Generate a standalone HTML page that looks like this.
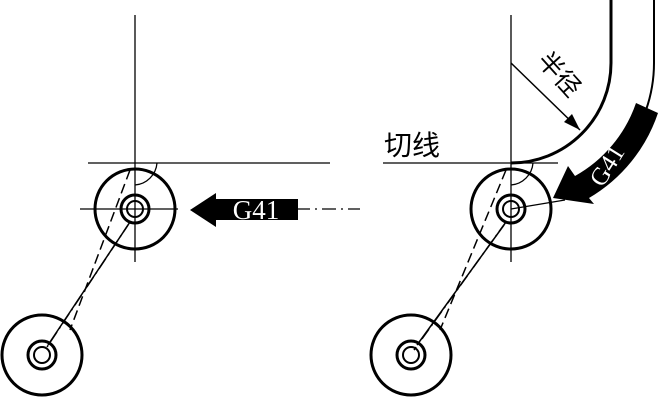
<!DOCTYPE html>
<html><head><style>body{margin:0;background:#fff}svg{display:block}</style></head><body>
<svg width="658" height="401" viewBox="0 0 658 401" xmlns="http://www.w3.org/2000/svg" font-family="Liberation Serif, Noto Serif CJK SC, serif">
<g stroke="#000" fill="none">
<!-- left -->
<line x1="135" y1="15" x2="135" y2="262" stroke-width="1.3"/>
<line x1="88" y1="163" x2="330" y2="163" stroke-width="1.3"/>
<line x1="80" y1="209" x2="178" y2="209" stroke-width="1.3"/>
<line x1="296" y1="209" x2="360" y2="209" stroke-width="1.3" stroke-dasharray="14,5,2,5"/>
<circle cx="135" cy="209" r="40" stroke-width="3"/>
<circle cx="135" cy="209" r="14" stroke-width="3"/>
<circle cx="135" cy="209" r="8" stroke-width="2"/>
<path d="M135,185 A24,24 0 0 0 157,163" stroke-width="1.3"/>
<circle cx="42" cy="355" r="40" stroke-width="3"/>
<circle cx="42" cy="355" r="14" stroke-width="3"/>
<circle cx="42" cy="355" r="8" stroke-width="2"/>
<line x1="130" y1="170" x2="70" y2="330" stroke-width="1.5" stroke-dasharray="10,5"/>
<line x1="130" y1="222" x2="45" y2="350" stroke-width="1.5" stroke-dasharray="12,4,2,4"/>
<line x1="128" y1="225" x2="48" y2="345" stroke-width="1.5"/>
<!-- right -->
<line x1="511" y1="15" x2="511" y2="262" stroke-width="1.3"/>
<line x1="383" y1="163" x2="558" y2="163" stroke-width="1.3"/>
<line x1="511" y1="209" x2="565" y2="200" stroke-width="1.3"/>
<circle cx="511" cy="209" r="40" stroke-width="3"/>
<circle cx="511" cy="209" r="14" stroke-width="3"/>
<circle cx="511" cy="209" r="8" stroke-width="2"/>
<path d="M511,185 A24,24 0 0 0 533,163" stroke-width="1.3"/>
<circle cx="411" cy="355" r="40" stroke-width="3"/>
<circle cx="411" cy="355" r="14" stroke-width="3"/>
<circle cx="411" cy="355" r="8" stroke-width="2"/>
<line x1="506" y1="170" x2="440" y2="330" stroke-width="1.5" stroke-dasharray="10,5"/>
<line x1="506" y1="222" x2="414" y2="350" stroke-width="1.5" stroke-dasharray="12,4,2,4"/>
<line x1="504" y1="225" x2="417" y2="345" stroke-width="1.5"/>
<path d="M611,0 L611,63 A100,100 0 0 1 511,163" stroke-width="3"/>
<path d="M654,0 L654,63 A143,143 0 0 1 646,110" stroke-width="2"/>
<line x1="511" y1="63" x2="580" y2="130" stroke-width="1.5"/>
</g>
<polygon points="580,130 564,122 572,114" fill="#000"/>
<!-- left arrow -->
<polygon points="190,210 216,193 216,199 298,199 298,220 216,220 216,227" fill="#000"/>
<text x="256" y="219" font-size="27" fill="#fff" text-anchor="middle">G41</text>
<!-- right curved arrow -->
<path d="M636,103 L658,113 A156,156 0 0 1 589,198 L594,204 L553,198 L568,166 L575,176 A133,133 0 0 0 636,103 Z" fill="#000"/>
<text x="0" y="0" font-size="25" fill="#fff" text-anchor="middle" transform="translate(614,170) rotate(-58)">G41</text>
<text x="384" y="155" font-size="28" font-family="Liberation Sans, Noto Sans CJK SC, sans-serif">切线</text>
<text x="0" y="0" font-size="25" font-family="Liberation Sans, Noto Sans CJK SC, sans-serif" text-anchor="middle" transform="translate(553,80) rotate(48)">半径</text>
</svg>
</body></html>
